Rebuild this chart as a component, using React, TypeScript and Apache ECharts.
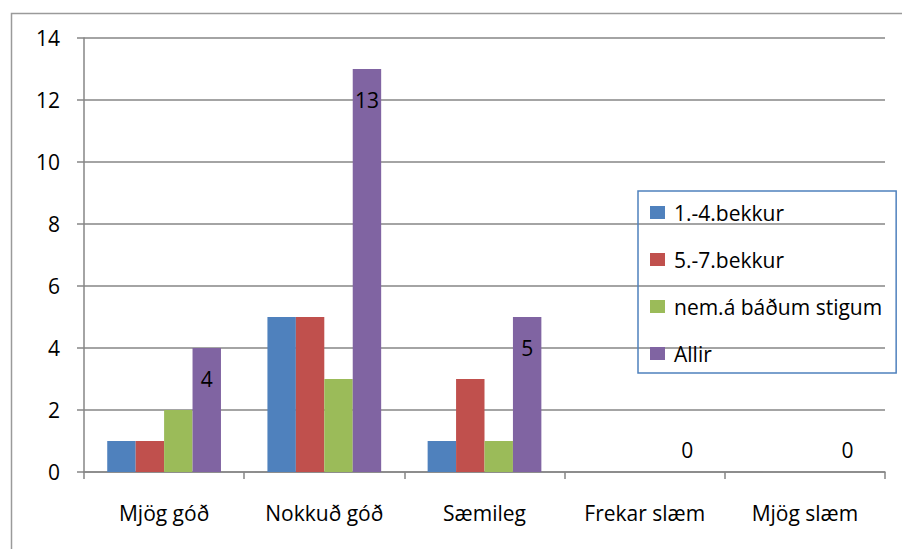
import React, { useEffect, useRef } from "react";
import * as echarts from "echarts";

const categories = ["Mjög góð", "Nokkuð góð", "Sæmileg", "Frekar slæm", "Mjög slæm"];
const seriesNames = ["1.-4.bekkur", "5.-7.bekkur", "nem.á báðum stigum", "Allir"];
const bekkur14 = [1, 5, 1, 0, 0];
const bekkur57 = [1, 5, 3, 0, 0];
const badumStigum = [2, 3, 1, 0, 0];
const allir = [4, 13, 5, 0, 0];
const colors = ["#4F81BD", "#C0504D", "#9BBB59", "#8064A2"];

const FONT = "Open Sans";

export default function App() {
  const ref = useRef<HTMLDivElement>(null);
  useEffect(() => {
    if (!ref.current) return;
    const chart = echarts.init(ref.current, null, { renderer: "svg" });
    const allirData = allir.map((v) =>
      v === 0
        ? { value: v, label: { position: "top", distance: 12 } }
        : { value: v }
    );
    const mk = (name: string, data: any[], color: string, withLabel: boolean) => ({
      name,
      type: "bar",
      data,
      barGap: "0%",
      barCategoryGap: "29%",
      itemStyle: { color },
      label: withLabel
        ? {
            show: true,
            position: "insideTop",
            distance: 20,
            color: "#000",
            fontFamily: FONT,
            fontSize: 21,
          }
        : { show: false },
    });
    chart.setOption({
      animation: false,
      backgroundColor: "#fff",
      textStyle: { fontFamily: FONT },
      graphic: [
        {
          type: "rect",
          left: 9,
          top: 11,
          shape: { width: 1000, height: 1000 },
          style: { fill: "none", stroke: "#9a9a9a", lineWidth: 1.5 },
          z: -1,
        },
      ],
      grid: { left: 84, top: 38, right: 17, bottom: 77, containLabel: false },
      legend: {
        orient: "vertical",
        left: 638,
        top: 191,
        padding: [11, 14, 9, 12],
        borderColor: "#4F81BD",
        borderWidth: 1.5,
        itemWidth: 15,
        itemHeight: 13,
        itemGap: 26,
        icon: "rect",
        textStyle: {
          fontFamily: FONT,
          fontSize: 21,
          color: "#000",
          lineHeight: 20,
          padding: [0, 0, 0, 4],
        },
        data: seriesNames,
      },
      xAxis: {
        type: "category",
        data: categories,
        axisLine: { lineStyle: { color: "#868686", width: 1.5 } },
        axisTick: { show: true, length: 7, lineStyle: { color: "#868686", width: 1.5 } },
        axisLabel: { color: "#000", fontFamily: FONT, fontSize: 21, margin: 30 },
      },
      yAxis: {
        type: "value",
        min: 0,
        max: 14,
        interval: 2,
        axisLine: { show: true, lineStyle: { color: "#868686", width: 1.5 } },
        axisTick: { show: true, length: 7, lineStyle: { color: "#868686", width: 1.5 } },
        axisLabel: { color: "#000", fontFamily: FONT, fontSize: 21, margin: 24 },
        splitLine: { lineStyle: { color: "#868686", width: 1.5 } },
      },
      series: [
        mk(seriesNames[0], bekkur14, colors[0], false),
        mk(seriesNames[1], bekkur57, colors[1], false),
        mk(seriesNames[2], badumStigum, colors[2], false),
        mk(seriesNames[3], allirData, colors[3], true),
      ],
    });
    return () => chart.dispose();
  }, []);
  return (
    <div
      ref={ref}
      style={{ position: "absolute", left: 0, top: 0, width: 902, height: 549 }}
    />
  );
}
